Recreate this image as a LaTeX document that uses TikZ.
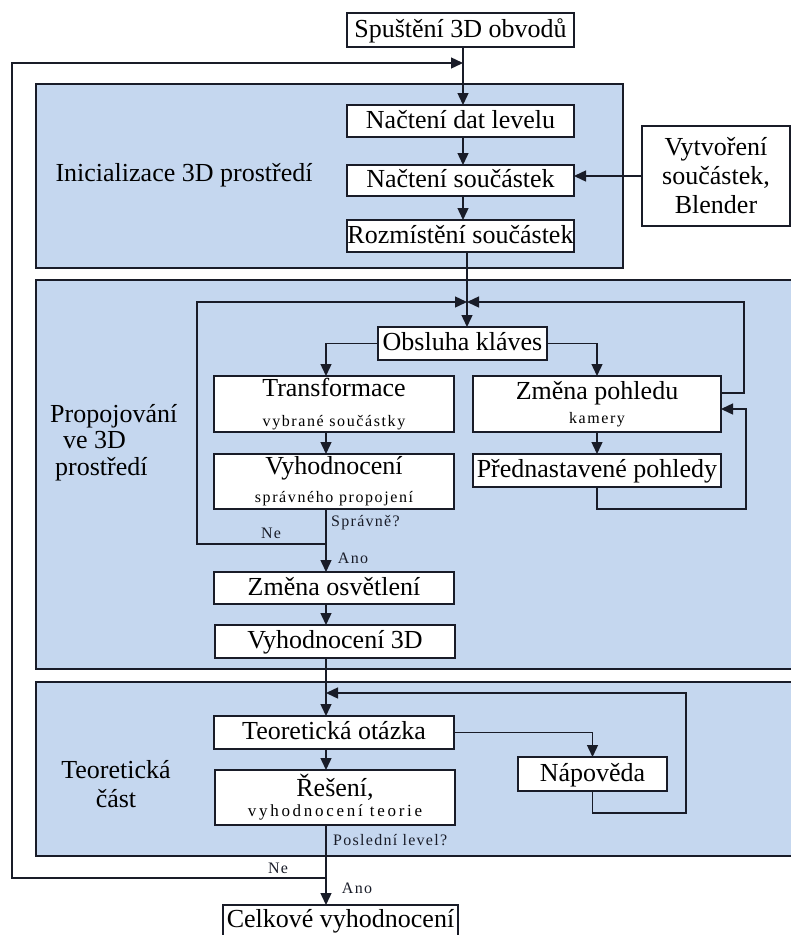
\documentclass[tikz,border=0pt]{standalone}
\usepackage{fontspec}
\setmainfont{Liberation Serif}
\usetikzlibrary{arrows.meta}
\definecolor{linec}{RGB}{25,28,40}
\definecolor{bluef}{RGB}{197,215,239}
\newcommand{\bigf}{\fontsize{26}{28}\selectfont}
\newcommand{\smf}{\fontsize{16}{17}\selectfont\addfontfeature{LetterSpace=10}}
\newcommand{\smfb}{\fontsize{17}{17}\selectfont\addfontfeature{LetterSpace=16}}
\newcommand{\lblf}{\fontsize{16}{17}\selectfont\addfontfeature{LetterSpace=8}}
\begin{document}
\begin{tikzpicture}[x=1pt,y=-1pt,
  box/.style={draw=linec, line width=1.4pt, fill=white, inner sep=0pt, outer sep=0pt, font=\bigf, align=center, text=black},
  one/.style={box, text height=18pt, text depth=4pt},
  rborder/.style={draw=linec, line width=1.6pt},
  conn/.style={draw=linec, line width=1.4pt},
  arr/.style={conn, -{Triangle[length=12pt,width=11pt]}},
  lbl/.style={font=\bigf, inner sep=0pt, text=black},
  note/.style={font=\lblf, inner sep=0pt, text=linec}]
\useasboundingbox (0,0) rectangle (791,935);

% regions
\fill[bluef] (36,84) rectangle (623,268);
\draw[rborder] (36,84) rectangle (623,268);
\fill[bluef] (36,280) rectangle (791,669);
\draw[rborder] (791,280) -- (36,280) -- (36,669) -- (791,669);
\fill[bluef] (36,682) rectangle (791,856);
\draw[rborder] (791,682) -- (36,682) -- (36,856) -- (791,856);

% region labels
\node[lbl] (initl) at (184,175) {Inicializace 3D prostředí};
\node[lbl, align=left, font=\fontsize{26}{26.5}\selectfont, anchor=west] (propl) at (50,442.5) {Propojování\\\hspace*{13pt}ve 3D\\\hspace*{5pt}prostředí};
\node[lbl, align=center, font=\fontsize{26}{29}\selectfont] (teorl) at (116,784) {Teoretická\\část};

% boxes
\node[one, minimum width=227pt, minimum height=34pt] (start) at (460.5,30) {Spuštění 3D obvodů};
\node[one, minimum width=227pt, minimum height=32pt] (dat) at (460.5,121) {Načtení dat levelu};
\node[one, minimum width=227pt, minimum height=31pt] (souc) at (460.5,180.5) {Načtení součástek};
\node[one, minimum width=227pt, minimum height=32pt] (rozm) at (460.5,236) {Rozmístění součástek};
\node[box, font=\fontsize{26}{29}\selectfont, minimum width=148pt, minimum height=100pt] (blender) at (716,176) {Vytvoření\\součástek,\\Blender};
\node[one, minimum width=169pt, minimum height=33pt] (obsl) at (462.5,343.5) {Obsluha kláves};
\node[box, minimum width=240pt, minimum height=56pt] (transf) at (334,404) {Transformace\\[2pt]{\smf vybrané součástky}};
\node[box, minimum width=240pt, minimum height=55pt] (vyh) at (334,481.5) {Vyhodnocení\\[0pt]{\smf správného propojení}};
\node[box, minimum width=248pt, minimum height=56pt] (zmena) at (597,404) {Změna pohledu\\[-4pt]{\smf kamery}};
\node[one, minimum width=248pt, minimum height=33pt] (predn) at (597,470.5) {Přednastavené pohledy};
\node[one, minimum width=240pt, minimum height=32pt] (osvet) at (334,588) {Změna osvětlení};
\node[one, minimum width=240pt, minimum height=33pt] (vyh3d) at (335,641.5) {Vyhodnocení 3D};
\node[one, minimum width=240pt, minimum height=33pt] (teor) at (334,732.5) {Teoretická otázka};
\node[one, minimum width=149pt, minimum height=34pt] (napov) at (592.5,774) {Nápověda};
\node[box, minimum width=240pt, minimum height=55pt] (reseni) at (335,797.5) {Řešení,\\[-8pt]{\smfb vyhodnocení teorie}};
\node[one, minimum width=235pt, minimum height=31pt] (celk) at (340.5,920.5) {Celkové vyhodnocení};

% helper coordinates
\coordinate (colT) at (463,0);
\coordinate (colT2) at (467,0);
\coordinate (colL) at (326,0);
\coordinate (jStart) at (463,63);
\coordinate (oTL) at (12,63);
\coordinate (jOut) at (326,878);
\coordinate (jTop) at (467,302);
\coordinate (lpL) at (197,302);
\coordinate (jNe) at (326,544);
\coordinate (lpR) at (744,302);
\coordinate (lpR2) at (746,509);
\coordinate (jT) at (326,693);
\coordinate (lpN) at (686,813);

% connectors
\draw[arr] (start.south -| colT) -- (dat.north -| colT);
\draw[arr] (dat.south -| colT) -- (souc.north -| colT);
\draw[arr] (souc.south -| colT) -- (rozm.north -| colT);
\draw[arr] (blender.west) -- (blender.west -| souc.east);
\draw[arr] (rozm.south -| colT2) -- (obsl.north -| colT2);
\draw[arr] (obsl.west) -| (transf.north -| colL);
\draw[arr] (obsl.east) -| (zmena.north);
\draw[arr] (transf.south -| colL) -- (vyh.north -| colL);
\draw[arr] (zmena.south) -- (predn.north);
\draw[arr] (vyh.south -| colL) -- (osvet.north -| colL);
\draw[arr] (jNe) -- (jNe -| lpL) -- (lpL) -- (jTop);
\draw[arr] ([yshift=11pt]zmena.east) -| (lpR) -- (jTop);
\draw[arr] (predn.south) |- (lpR2) |- ([yshift=-5pt]zmena.east);
\draw[arr] (osvet.south -| colL) -- (vyh3d.north -| colL);
\draw[arr] (vyh3d.south -| colL) -- (teor.north -| colL);
\draw[arr] (teor.east) -| (napov.north);
\draw[arr] (napov.south) |- (lpN) |- (jT);
\draw[arr] (teor.south -| colL) -- (reseni.north -| colL);
\draw[arr] (reseni.south -| colL) -- (celk.north -| colL);
\draw[arr] (jOut) -- (jOut -| oTL) -- (oTL) -- (jStart);

% connector labels
\node[note, anchor=west] (sprav) at (331,523) {Správně?};
\node[note] (ne1) at (271,533) {Ne};
\node[note] (ano1) at (353,558) {Ano};
\node[note, anchor=west] (posl) at (333,840) {Poslední level?};
\node[note] (ne2) at (278,868) {Ne};
\node[note] (ano2) at (357,888) {Ano};
\end{tikzpicture}
\end{document}
